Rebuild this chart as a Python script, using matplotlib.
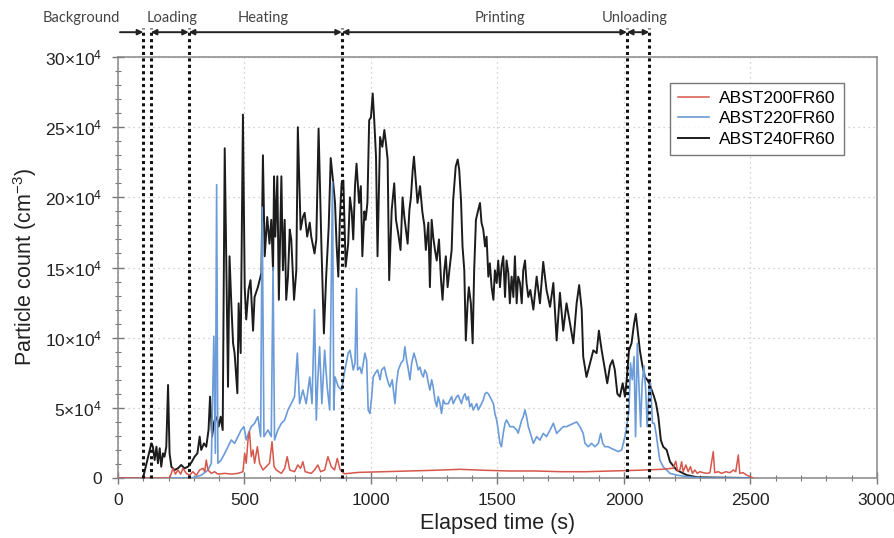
import numpy as np
import matplotlib
matplotlib.use("Agg")
import matplotlib.pyplot as plt
import matplotlib.transforms as mtransforms
from matplotlib.ticker import MultipleLocator, FuncFormatter

plt.rcParams["font.family"] = ["Liberation Sans", "DejaVu Sans"]
plt.rcParams["mathtext.fontset"] = "custom"
plt.rcParams["mathtext.rm"] = "Liberation Sans"
plt.rcParams["mathtext.it"] = "Liberation Sans:italic"

# particle counts in units of 1e4 cm^-3, (elapsed time s, value)
red_200 = [
    (0, 0), (204, 0), (211, 0.33), (217, 0.69), (227, 0.28), (237, 0.57), (248, 0.28), (257, 0.69),
    (270, 0.33), (283, 0.2), (296, 0.45), (310, 0.2), (323, 0.57), (336, 0.69), (343, 0.45), (349, 1.28),
    (356, 0.57), (369, 0.33), (382, 0.45), (395, 0.28), (422, 0.33), (448, 0.28), (474, 0.33), (494, 0.45),
    (501, 1.76), (507, 1.05), (514, 2.71), (520, 3.3), (527, 1.52), (534, 2.0), (540, 1.05), (551, 2.23),
    (560, 1.05), (573, 0.57), (586, 0.81), (599, 1.05), (609, 2.59), (617, 0.81), (626, 0.57), (646, 0.33),
    (659, 0.69), (669, 1.52), (679, 0.57), (698, 0.45), (711, 0.93), (722, 0.69), (731, 1.16), (740, 0.45),
    (764, 0.33), (777, 0.57), (790, 0.93), (801, 0.45), (817, 0.57), (830, 1.52), (843, 0.81), (856, 0.57),
    (867, 1.4), (878, 0.6), (895, 0.3), (950, 0.4), (1050, 0.45), (1150, 0.5), (1250, 0.55), (1350, 0.62),
    (1450, 0.55), (1550, 0.5), (1650, 0.5), (1750, 0.45), (1850, 0.45), (1950, 0.5), (2050, 0.55),
    (2150, 0.62), (2195, 0.7), (2205, 1.2), (2212, 0.5), (2221, 0.57), (2228, 1.16), (2234, 0.45),
    (2245, 0.93), (2254, 0.45), (2263, 0.81), (2271, 0.33), (2280, 0.57), (2290, 0.33), (2300, 0.45),
    (2313, 0.38), (2329, 0.33), (2340, 0.38), (2353, 1.88), (2359, 0.38), (2373, 0.45), (2386, 0.33),
    (2403, 0.45), (2419, 0.38), (2432, 0.57), (2442, 0.45), (2452, 1.64), (2458, 0.33), (2471, 0.38),
    (2485, 0.21), (2498, 0.1), (2511, 0),
]

blue_220 = [
    (0, 0), (290, 0), (329, 0.2), (356, 0.57), (369, 1.05), (379, 10.1), (385, 1.76), (390, 20.9),
    (395, 1.05), (408, 1.28), (422, 1.76), (435, 2.23), (448, 2.71), (461, 2.47), (474, 2.95), (487, 3.42),
    (498, 3.66), (507, 2.71), (516, 3.2), (527, 3.66), (540, 3.9), (553, 4.37), (564, 2.95), (570, 19.3),
    (577, 2.95), (593, 3.42), (606, 2.95), (613, 15.0), (619, 2.71), (632, 3.42), (646, 3.9), (659, 4.13),
    (672, 4.85), (685, 5.3), (698, 5.8), (709, 8.9), (718, 5.3), (731, 6.27), (744, 5.3), (758, 7.2),
    (767, 5.3), (777, 12.0), (784, 4.13), (790, 7.0), (797, 9.35), (806, 5.3), (817, 9.1), (827, 6.5),
    (837, 4.85), (848, 21.1), (853, 4.85), (858, 7.2), (871, 6.5), (884, 6.27), (897, 7.7), (910, 8.9),
    (917, 9.1), (924, 8.4), (930, 7.7), (937, 8.2), (943, 13.5), (947, 7.7), (956, 7.9), (963, 7.45),
    (970, 8.2), (976, 8.9), (983, 8.4), (989, 4.85), (996, 4.6), (1003, 5.8), (1009, 7.2), (1016, 7.45),
    (1026, 7.7), (1036, 7.0), (1042, 7.7), (1053, 7.9), (1062, 7.2), (1069, 6.75), (1075, 6.5), (1084, 7.0),
    (1095, 5.3), (1101, 6.75), (1108, 7.7), (1119, 8.2), (1128, 8.4), (1134, 9.35), (1141, 8.4), (1148, 7.7),
    (1154, 7.0), (1161, 8.2), (1170, 8.9), (1178, 8.4), (1187, 7.7), (1194, 7.9), (1200, 7.45), (1207, 7.2),
    (1213, 7.7), (1220, 7.45), (1227, 6.75), (1233, 6.27), (1240, 7.0), (1246, 6.5), (1253, 5.56),
    (1260, 5.08), (1266, 5.8), (1273, 5.3), (1279, 4.6), (1286, 5.56), (1292, 5.3), (1306, 5.3),
    (1312, 5.56), (1319, 5.8), (1325, 5.3), (1332, 5.56), (1339, 5.8), (1345, 5.9), (1352, 5.56),
    (1358, 5.3), (1365, 5.8), (1372, 6.0), (1378, 5.56), (1385, 5.8), (1391, 5.08), (1398, 5.3),
    (1404, 4.85), (1411, 5.08), (1418, 5.3), (1424, 4.85), (1431, 5.08), (1437, 5.3), (1444, 5.56),
    (1451, 6.0), (1457, 6.1), (1464, 6.0), (1470, 5.8), (1477, 5.56), (1484, 5.3), (1490, 4.6),
    (1497, 4.13), (1503, 3.42), (1510, 2.47), (1516, 2.23), (1523, 3.2), (1530, 3.9), (1536, 4.13),
    (1543, 3.9), (1549, 3.66), (1563, 3.66), (1576, 3.42), (1582, 3.2), (1589, 3.66), (1596, 4.13),
    (1602, 4.37), (1609, 4.85), (1615, 4.37), (1622, 3.66), (1630, 3.2), (1642, 2.47), (1655, 2.95),
    (1668, 2.7), (1681, 3.18), (1694, 2.95), (1708, 3.42), (1721, 3.9), (1734, 3.18), (1747, 3.42),
    (1760, 3.66), (1773, 3.66), (1787, 3.78), (1800, 3.9), (1813, 4.0), (1826, 3.66), (1839, 3.18),
    (1846, 2.47), (1859, 2.23), (1872, 2.47), (1885, 2.23), (1899, 2.47), (1908, 3.18), (1916, 2.47),
    (1925, 2.23), (1938, 2.23), (1951, 2.1), (1964, 2.0), (1978, 1.88), (1991, 2.0), (2004, 2.95),
    (2011, 3.66), (2020, 4.85), (2026, 8.2), (2033, 7.0), (2040, 8.65), (2046, 2.95), (2053, 9.6),
    (2059, 6.75), (2066, 3.66), (2072, 6.75), (2079, 8.0), (2086, 6.3), (2092, 3.66), (2099, 6.3),
    (2105, 6.75), (2113, 3.9), (2120, 3.9), (2127, 3.18), (2136, 2.0), (2142, 1.28), (2155, 0.8),
    (2169, 0.57), (2182, 0.33), (2208, 0.21), (2248, 0.1), (2300, 0), (2500, 0),
]

black_240 = [
    (0, 0), (99, 0), (132, 2.47), (138, 2.23), (145, 1.28), (152, 2.23), (158, 1.05), (165, 2.12),
    (171, 0.81), (178, 1.76), (184, 1.52), (191, 2.23), (198, 6.63), (204, 1.76), (211, 0.81), (224, 0.57),
    (237, 0.69), (250, 0.93), (263, 0.69), (277, 0.81), (283, 0.93), (292, 1.16), (303, 1.52), (314, 1.76),
    (323, 2.95), (329, 2.0), (340, 2.47), (349, 2.23), (358, 3.42), (364, 5.8), (372, 2.95), (379, 3.9),
    (386, 4.37), (393, 4.13), (398, 3.66), (406, 4.37), (414, 3.42), (422, 23.5), (435, 6.5), (441, 15.8),
    (448, 12.45), (455, 9.6), (461, 8.9), (472, 6.04), (477, 12.45), (485, 8.9), (494, 25.9), (501, 13.6),
    (507, 11.3), (516, 13.4), (524, 14.1), (534, 10.5), (540, 12.9), (553, 13.6), (567, 14.6), (573, 23.0),
    (580, 15.8), (590, 18.6), (599, 16.7), (606, 18.4), (613, 14.8), (617, 21.5), (622, 17.2), (630, 21.5),
    (636, 12.7), (646, 21.5), (652, 14.8), (659, 18.4), (665, 12.7), (672, 14.35), (679, 17.7), (685, 17.0),
    (696, 12.7), (705, 14.8), (711, 25.0), (722, 17.7), (731, 18.6), (738, 18.9), (748, 17.2), (758, 18.2),
    (764, 17.2), (777, 16.0), (784, 17.0), (793, 24.9), (804, 16.7), (814, 10.3), (823, 14.35), (833, 17.9),
    (841, 22.8), (850, 21.2), (858, 19.6), (864, 16.7), (871, 14.35), (877, 18.4), (884, 21.0), (891, 21.2),
    (900, 15.06), (910, 16.7), (917, 20.0), (924, 19.0), (930, 17.0), (937, 20.8), (943, 22.4), (953, 19.6),
    (960, 20.8), (966, 15.8), (974, 19.0), (979, 18.4), (986, 19.6), (993, 25.5), (1000, 25.7), (1007, 27.4),
    (1013, 25.5), (1020, 22.9), (1026, 15.8), (1036, 24.3), (1045, 23.6), (1053, 24.8), (1059, 23.9),
    (1066, 22.7), (1072, 14.1), (1082, 19.1), (1092, 21.0), (1099, 18.4), (1108, 17.4), (1117, 16.25),
    (1125, 20.0), (1132, 18.6), (1138, 17.7), (1145, 16.7), (1152, 19.1), (1158, 20.0), (1165, 21.95),
    (1170, 22.9), (1177, 21.2), (1184, 19.6), (1194, 20.8), (1203, 19.0), (1211, 18.0), (1217, 16.25),
    (1227, 18.2), (1233, 13.6), (1240, 18.4), (1246, 17.2), (1253, 16.25), (1260, 15.5), (1269, 17.0),
    (1277, 14.1), (1283, 12.7), (1290, 14.8), (1296, 15.8), (1303, 13.6), (1310, 14.8), (1319, 16.25),
    (1325, 19.8), (1335, 22.2), (1343, 22.7), (1349, 21.95), (1356, 19.8), (1362, 16.5), (1369, 14.8),
    (1375, 9.8), (1382, 12.45), (1387, 13.6), (1395, 12.45), (1402, 9.6), (1408, 14.8), (1415, 18.4),
    (1424, 19.1), (1431, 19.6), (1437, 18.2), (1444, 17.7), (1451, 16.5), (1457, 17.2), (1464, 14.35),
    (1470, 15.3), (1477, 13.6), (1484, 12.7), (1490, 14.8), (1497, 13.9), (1503, 15.5), (1510, 13.6),
    (1516, 15.06), (1523, 15.8), (1530, 12.9), (1536, 15.5), (1543, 14.6), (1549, 12.45), (1556, 14.35),
    (1563, 12.9), (1569, 15.8), (1576, 12.45), (1582, 14.35), (1589, 13.9), (1596, 12.45), (1602, 14.8),
    (1609, 15.5), (1615, 13.9), (1622, 12.9), (1630, 13.4), (1642, 12.0), (1655, 14.35), (1668, 12.45),
    (1681, 15.4), (1694, 13.4), (1708, 12.2), (1721, 13.9), (1734, 9.8), (1747, 13.2), (1760, 10.5),
    (1773, 12.45), (1787, 11.0), (1800, 9.6), (1813, 12.45), (1823, 13.75), (1833, 12.0), (1839, 8.65),
    (1852, 7.2), (1866, 8.2), (1879, 9.1), (1892, 8.9), (1901, 10.5), (1912, 9.1), (1925, 7.7), (1934, 6.75),
    (1945, 8.0), (1955, 8.4), (1964, 7.7), (1974, 6.0), (1984, 5.8), (1995, 6.75), (2004, 5.8), (2011, 7.0),
    (2020, 9.1), (2030, 9.6), (2040, 11.0), (2047, 11.7), (2057, 10.1), (2063, 9.1), (2073, 8.0), (2083, 7.2),
    (2092, 7.0), (2100, 6.75), (2109, 6.3), (2119, 5.8), (2127, 5.3), (2136, 4.37), (2146, 2.7), (2155, 2.23),
    (2169, 2.0), (2182, 1.16), (2208, 0.57), (2248, 0.21), (2290, 0.05), (2500, 0),
]

series_names = ["ABST200FR60", "ABST220FR60", "ABST240FR60"]
series_colors = ["#d6574c", "#6b9bd8", "#1c1c1c"]

# phase boundaries (s) and labels
phase_edges = [100, 130, 280, 885, 2012, 2100]
phase_names = ["Background", "Loading", "Heating", "Printing", "Unloading"]
phase_label_x = [-145, 214, 573, 1510, 2043]


def unzip(pairs):
    arr = np.array(pairs, dtype=float)
    return arr[:, 0], arr[:, 1] * 1e4


fig = plt.figure(figsize=(8.95, 5.38), dpi=100)
ax = fig.add_axes([0.1318, 0.1115, 0.848, 0.7825])

lines = {}
for name, pairs, color, lw, z in [
    (series_names[2], black_240, series_colors[2], 1.4, 3),
    (series_names[1], blue_220, series_colors[1], 1.2, 4),
    (series_names[0], red_200, series_colors[0], 1.1, 5),
]:
    t, y = unzip(pairs)
    (ln,) = ax.plot(t, y, color=color, lw=lw, label=name, zorder=z)
    lines[name] = ln

ax.set_xlim(0, 3000)
ax.set_ylim(0, 30e4)
ax.xaxis.set_major_locator(MultipleLocator(500))
ax.xaxis.set_minor_locator(MultipleLocator(100))
ax.yaxis.set_major_locator(MultipleLocator(5e4))
ax.yaxis.set_minor_locator(MultipleLocator(1e4))


def ylab(v, pos):
    if v == 0:
        return "0"
    return r"$\mathregular{%d{\times}10^{4}}$" % round(v / 1e4)


ax.yaxis.set_major_formatter(FuncFormatter(ylab))
ax.tick_params(axis="both", which="major", direction="inout", length=9, width=1.0,
               color="#777777", labelsize=12.5, labelcolor="#222222")
ax.tick_params(axis="both", which="minor", direction="inout", length=5, width=0.8, color="#777777")
ax.tick_params(axis="x", pad=6)
ax.tick_params(axis="y", pad=7)
for sp in ax.spines.values():
    sp.set_color("#888888")
    sp.set_linewidth(1.1)

ax.grid(True, which="major", color="#c4c4c4", linestyle=(0, (1, 3)), lw=0.9)
ax.set_axisbelow(True)

ax.set_xlabel("Elapsed time (s)", fontsize=15.5, color="#222222", labelpad=4)
ax.set_ylabel(r"Particle count (cm$^{\mathregular{-3}}$)", fontsize=15.5, color="#222222", labelpad=4)

# phase boundaries, drawn a little above the frame
trans = mtransforms.blended_transform_factory(ax.transData, ax.transAxes)
for x in phase_edges:
    ax.plot([x, x], [0, 1.07], transform=trans, color="#111111", lw=2.2,
            linestyle=(0, (1, 1.1)), clip_on=False, zorder=6)

arrow_y = 1.059
arrow_kw = dict(lw=1.4, color="#222222", shrinkA=0, shrinkB=0, mutation_scale=8)
ax.annotate("", xy=(phase_edges[0], arrow_y), xytext=(8, arrow_y), xycoords=trans,
            textcoords=trans, arrowprops=dict(arrowstyle="-|>", **arrow_kw), annotation_clip=False)
for a, b in zip(phase_edges[1:-1], phase_edges[2:]):
    ax.annotate("", xy=(b, arrow_y), xytext=(a, arrow_y), xycoords=trans, textcoords=trans,
                arrowprops=dict(arrowstyle="<|-|>", **arrow_kw), annotation_clip=False)

for name, x in zip(phase_names, phase_label_x):
    ax.text(x, 1.093, name, transform=trans, ha="center", va="center",
            fontsize=10.5, color="#444444", family=["Lato", "DejaVu Sans"], clip_on=False)

handles = [lines[n] for n in series_names]
leg = ax.legend(handles, series_names, loc="upper left", bbox_to_anchor=(0.727, 0.938),
                borderaxespad=0, fontsize=12.5, frameon=True, fancybox=False, borderpad=0.45,
                handlelength=1.8, labelspacing=0.3, handletextpad=0.6)
leg.get_frame().set_edgecolor("#555555")
leg.get_frame().set_linewidth(1.0)

fig.savefig("out.png", dpi=100)
